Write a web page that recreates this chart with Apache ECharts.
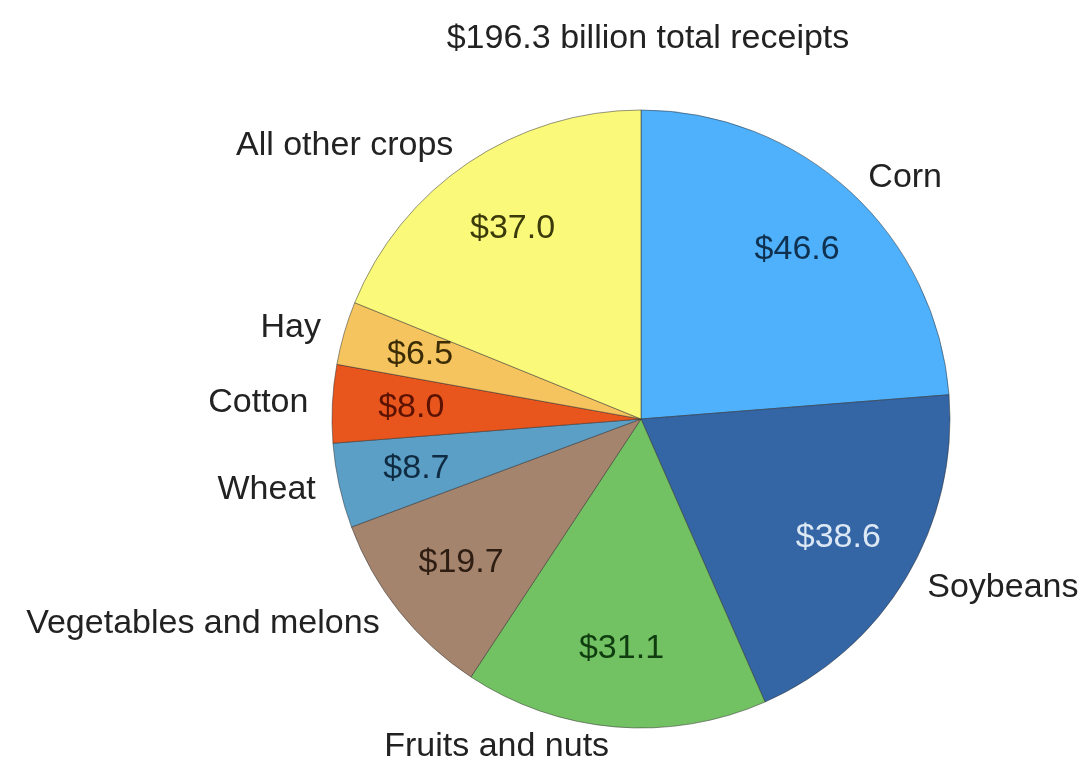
<!DOCTYPE html>
<html>
<head>
<meta charset="utf-8">
<script src="https://cdn.jsdelivr.net/npm/echarts@6/dist/echarts.min.js"></script>
<style>html,body{margin:0;padding:0;background:#fff;}#c{width:1084px;height:771px;}</style>
</head>
<body>
<div id="c"></div>
<script>
const titleText = '$196.3 billion total receipts';
const categories = ['Corn', 'Soybeans', 'Fruits and nuts', 'Vegetables and melons', 'Wheat', 'Cotton', 'Hay', 'All other crops'];
const values = [46.6, 38.6, 31.1, 19.7, 8.7, 8.0, 6.5, 37.0];
const sliceColors = ['#4fb0fb', '#3465a5', '#72c162', '#a5846d', '#5b9ec6', '#e8561e', '#f6c45e', '#fbf97a'];
const valueLabelColors = ['#10304f', '#dde8f5', '#0f3d10', '#2e1d12', '#0f2b42', '#5b1200', '#3b2c05', '#3b3a0a'];

const FONT = 'Liberation Sans, Arial, sans-serif';
const chart = echarts.init(document.getElementById('c'), null, {renderer: 'canvas'});

const pieData = categories.map((n, i) => ({
  name: n, value: values[i],
  itemStyle: {color: sliceColors[i]}
}));
const ringData = categories.map((n, i) => ({
  name: n, value: values[i],
  label: {color: valueLabelColors[i]}
}));

chart.setOption({
  animation: false,
  backgroundColor: '#fff',
  title: {
    text: titleText, left: 643, textAlign: 'center', top: 17,
    textStyle: {fontFamily: FONT, fontSize: 34, fontWeight: 'normal', color: '#222'}
  },
  series: [
    {
      type: 'pie', center: [641, 419], radius: 309, startAngle: 90, clockwise: true,
      avoidLabelOverlap: false, silent: true,
      itemStyle: {borderColor: 'rgba(45,45,45,0.5)', borderWidth: 1},
      label: {show: true, position: 'outside', formatter: '{b}', fontFamily: FONT, fontSize: 34, color: '#222', distanceToLabelLine: 4, padding: [12, 0, 0, 0]},
      labelLine: {show: false, length: 20, length2: 0},
      data: pieData
    },
    {
      type: 'pie', center: [641, 419], radius: [145, 309], startAngle: 90, clockwise: true,
      avoidLabelOverlap: false, silent: true,
      itemStyle: {color: 'rgba(0,0,0,0)', borderWidth: 0},
      label: {show: true, position: 'inside', formatter: p => '$' + p.value.toFixed(1), fontFamily: FONT, fontSize: 34},
      labelLine: {show: false},
      data: ringData
    }
  ]
});
</script>
</body>
</html>
